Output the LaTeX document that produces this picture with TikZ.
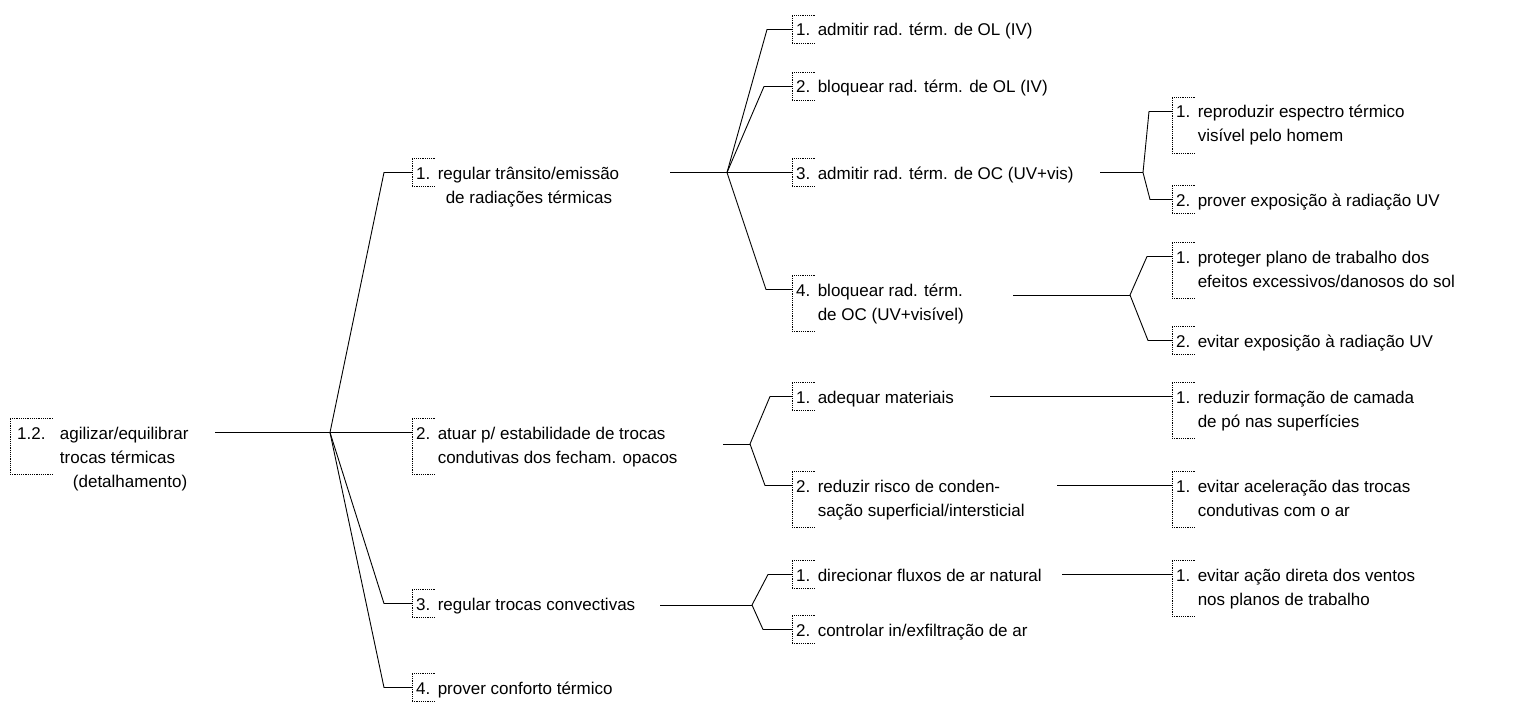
\documentclass[tikz,border=0pt]{standalone}
\usepackage{fontspec}
\setmainfont{Liberation Sans}
\usetikzlibrary{positioning}

% text rows set from the baseline of the first one
\newcommand{\rows}[1]{\begin{tabular}[t]{@{}l@{}}#1\end{tabular}}

\tikzset{
  link/.style={line width=0.9pt},
  bx/.style={line width=0.7pt, dash pattern=on 1.2pt off 1pt},
  brk/.style={append after command={
      (\tikzlastnode.north east) edge[bx] (\tikzlastnode.north west)
      (\tikzlastnode.north west) edge[bx] ([yshift=-#1]\tikzlastnode.south west)
      ([yshift=-#1]\tikzlastnode.south west) edge[bx] ([yshift=-#1]\tikzlastnode.south east)}},
  nbase/.style={anchor=base west, inner xsep=4pt, inner ysep=0pt, text height=20pt, text depth=7pt},
  num/.style={nbase, brk=0pt},
  num2/.style={nbase, brk=28pt},
  txt/.style={inner sep=0pt}
}

\begin{document}
\begin{tikzpicture}[x=1pt, y=-1pt, font=\fontsize{17}{24}\selectfont]
\useasboundingbox (0,0) rectangle (1523,706);

% root
\node[num2, inner xsep=7pt] (r) at (10,439) {1.2.};
\node[txt, base right=7pt of r] (rt) {\rows{agilizar/equilibrar\\trocas térmicas\\\hspace*{13pt}(detalhamento)}};

% first level
\node[num] (a1) at (412,179) {1.};
\node[txt, base right=3pt of a1] (a1t) {\rows{regular trânsito/emissão\\\hspace*{8pt}de radiações térmicas}};
\node[num2] (a2) at (412,439) {2.};
\node[txt, base right=3pt of a2] (a2t) {\rows{atuar p/ estabilidade de trocas\\condutivas dos fecham. opacos}};
\node[num] (a3) at (412,610) {3.};
\node[txt, base right=3pt of a3] (a3t) {regular trocas convectivas};
\node[num] (a4) at (412,694) {4.};
\node[txt, base right=3pt of a4] (a4t) {prover conforto térmico};

% second level
\node[num] (b1) at (792,36) {1.};
\node[txt, base right=3pt of b1] (b1t) {admitir rad. térm. de OL (IV)};
\node[num] (b2) at (792,93) {2.};
\node[txt, base right=3pt of b2] (b2t) {bloquear rad. térm. de OL (IV)};
\node[num] (b3) at (792,179) {3.};
\node[txt, base right=3pt of b3] (b3t) {admitir rad. térm. de OC (UV+vis)};
\node[num2] (b4) at (792,296) {4.};
\node[txt, base right=3pt of b4] (b4t) {\rows{bloquear rad. térm.\\de OC (UV+visível)}};
\node[num] (c1) at (792,403) {1.};
\node[txt, base right=3pt of c1] (c1t) {adequar materiais};
\node[num2] (c2) at (792,492) {2.};
\node[txt, base right=3pt of c2] (c2t) {\rows{reduzir risco de conden-\\sação superficial/intersticial}};
\node[num] (d1) at (792,581) {1.};
\node[txt, base right=3pt of d1] (d1t) {direcionar fluxos de ar natural};
\node[num] (d2) at (792,636) {2.};
\node[txt, base right=3pt of d2] (d2t) {controlar in/exfiltração de ar};

% third level
\node[num2] (e1) at (1172,118) {1.};
\node[txt, base right=3pt of e1] (e1t) {\rows{reproduzir espectro térmico\\visível pelo homem}};
\node[num] (e2) at (1172,206) {2.};
\node[txt, base right=3pt of e2] (e2t) {prover exposição à radiação UV};
\node[num2] (f1) at (1172,263) {1.};
\node[txt, base right=3pt of f1] (f1t) {\rows{proteger plano de trabalho dos\\efeitos excessivos/danosos do sol}};
\node[num] (f2) at (1172,347) {2.};
\node[txt, base right=3pt of f2] (f2t) {evitar exposição à radiação UV};
\node[num2] (g1) at (1172,403) {1.};
\node[txt, base right=3pt of g1] (g1t) {\rows{reduzir formação de camada\\de pó nas superfícies}};
\node[num2] (h1) at (1172,492) {1.};
\node[txt, base right=3pt of h1] (h1t) {\rows{evitar aceleração das trocas\\condutivas com o ar}};
\node[num2] (k1) at (1172,581) {1.};
\node[txt, base right=3pt of k1] (k1t) {\rows{evitar ação direta dos ventos\\nos planos de trabalho}};

% branch points and line starts
\coordinate (j0) at (330,432.5);
\coordinate (j1) at (727,172.5);
\coordinate (j2) at (750,444);
\coordinate (j3) at (752,605);
\coordinate (jb3) at (1143,172.5);
\coordinate (jb4) at (1130,295);
\coordinate (ro) at (215,432.5);
\coordinate (a1o) at (670,172.5);
\coordinate (a2o) at (723,444);
\coordinate (a3o) at (660,605);
\coordinate (b3o) at (1100,172.5);
\coordinate (b4o) at (1013,295);
\coordinate (c1o) at (990,396.5);
\coordinate (c2o) at (1057,485.5);
\coordinate (d1o) at (1062,574.5);

\draw[link] (ro) -- (j0);
\draw[link] (j0) -- ([xshift=-28pt]a1.west) -- (a1.west);
\draw[link] (j0) -- (a2.west);
\draw[link] (j0) -- ([xshift=-28pt]a3.west) -- (a3.west);
\draw[link] (j0) -- ([xshift=-28pt]a4.west) -- (a4.west);

\draw[link] (a1o) -- (j1);
\draw[link] (j1) -- ([xshift=-25pt]b1.west) -- (b1.west);
\draw[link] (j1) -- ([xshift=-28pt]b2.west) -- (b2.west);
\draw[link] (j1) -- (b3.west);
\draw[link] (j1) -- ([xshift=-26pt]b4.west) -- (b4.west);

\draw[link] (b3o) -- (jb3);
\draw[link] (jb3) -- ([xshift=-23pt]e1.west) -- (e1.west);
\draw[link] (jb3) -- ([xshift=-22pt]e2.west) -- (e2.west);
\draw[link] (b4o) -- (jb4);
\draw[link] (jb4) -- ([xshift=-25pt]f1.west) -- (f1.west);
\draw[link] (jb4) -- ([xshift=-24pt]f2.west) -- (f2.west);

\draw[link] (a2o) -- (j2);
\draw[link] (j2) -- ([xshift=-22pt]c1.west) -- (c1.west);
\draw[link] (j2) -- ([xshift=-27pt]c2.west) -- (c2.west);
\draw[link] (c1o) -- (g1.west);
\draw[link] (c2o) -- (h1.west);

\draw[link] (a3o) -- (j3);
\draw[link] (j3) -- ([xshift=-24pt]d1.west) -- (d1.west);
\draw[link] (j3) -- ([xshift=-29pt]d2.west) -- (d2.west);
\draw[link] (d1o) -- (k1.west);
\end{tikzpicture}
\end{document}
